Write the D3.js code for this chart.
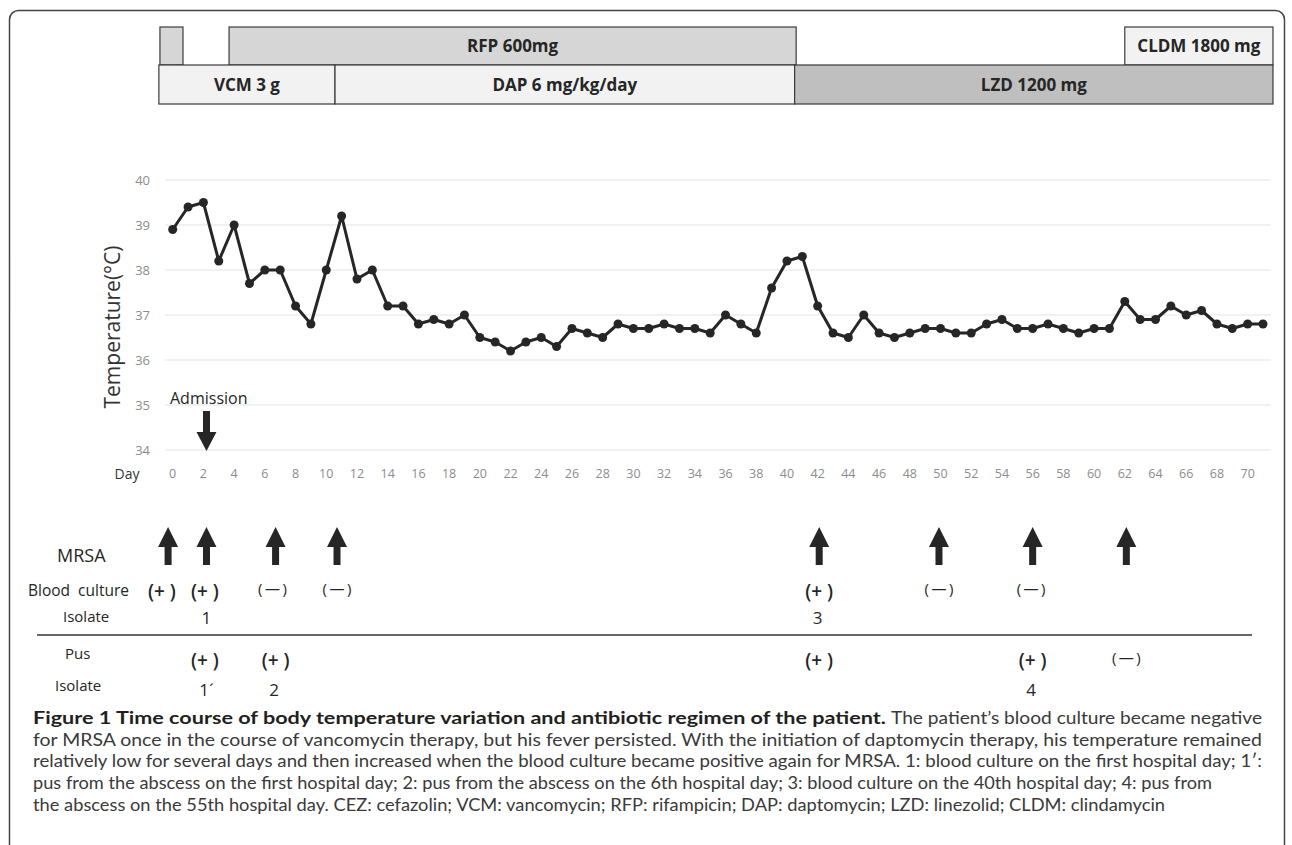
<!DOCTYPE html>
<html>
<head>
<meta charset="utf-8">
<script src="https://cdn.jsdelivr.net/npm/d3@7"></script>
<style>
  body { margin: 0; background: #fff; }
  svg { display: block; font-family: "Open Sans", sans-serif; }
</style>
</head>
<body>
<script>
// temperature per hospital day (0..71)
const days = d3.range(0, 72);
const temps = [
  38.9, 39.4, 39.5, 38.2, 39.0, 37.7, 38.0, 38.0, 37.2, 36.8,
  38.0, 39.2, 37.8, 38.0, 37.2, 37.2, 36.8, 36.9, 36.8, 37.0,
  36.5, 36.4, 36.2, 36.4, 36.5, 36.3, 36.7, 36.6, 36.5, 36.8,
  36.7, 36.7, 36.8, 36.7, 36.7, 36.6, 37.0, 36.8, 36.6, 37.6,
  38.2, 38.3, 37.2, 36.6, 36.5, 37.0, 36.6, 36.5, 36.6, 36.7,
  36.7, 36.6, 36.6, 36.8, 36.9, 36.7, 36.7, 36.8, 36.7, 36.6,
  36.7, 36.7, 37.3, 36.9, 36.9, 37.2, 37.0, 37.1, 36.8, 36.7,
  36.8, 36.8
];
const yTicks = [34, 35, 36, 37, 38, 39, 40];
const xTicks = d3.range(0, 71, 2);

// antibiotic regimens (start/end in days)
const topRegimens = [
  { label: "", start: -0.83, end: 0.67, fill: "#d6d6d6" },
  { label: "RFP 600mg", start: 3.67, end: 40.6, fill: "#d6d6d6" },
  { label: "CLDM 1800 mg", start: 62.0, end: 71.65, fill: "#f2f2f2" }
];
const bottomRegimens = [
  { label: "VCM 3 g", start: -0.9, end: 10.57, fill: "#f2f2f2" },
  { label: "DAP 6 mg/kg/day", start: 10.57, end: 40.5, fill: "#f2f2f2" },
  { label: "LZD 1200 mg", start: 40.5, end: 71.65, fill: "#bfbfbf" }
];

// MRSA annotations (positions in days)
const admissionDay = 2.2;
const mrsaArrowDays = [-0.3, 2.2, 6.7, 10.7, 42.1, 49.9, 56.0, 62.1];
const POS = "(+ )", NEG = "(\u2009\u2014\u2009)";
const bloodResults = [
  { day: -0.7, text: POS }, { day: 2.1, text: POS },
  { day: 6.5, text: NEG }, { day: 10.7, text: NEG },
  { day: 42.1, text: POS }, { day: 49.9, text: NEG }, { day: 55.9, text: NEG }
];
const bloodIsolates = [{ day: 2.2, text: "1" }, { day: 42.0, text: "3" }];
const pusResults = [
  { day: 2.1, text: POS }, { day: 6.7, text: POS },
  { day: 42.1, text: POS }, { day: 56.0, text: POS }, { day: 62.1, text: NEG }
];
const pusIsolates = [{ day: 2.2, text: "1´" }, { day: 6.6, text: "2" }, { day: 55.9, text: "4" }];

const captionBold = "Figure 1 Time course of body temperature variation and antibiotic regimen of the patient.";
const captionLines = [
  "The patient’s blood culture became negative",
  "for MRSA once in the course of vancomycin therapy, but his fever persisted. With the initiation of daptomycin therapy, his temperature remained",
  "relatively low for several days and then increased when the blood culture became positive again for MRSA. 1: blood culture on the first hospital day; 1′:",
  "pus from the abscess on the first hospital day; 2: pus from the abscess on the 6th hospital day; 3: blood culture on the 40th hospital day; 4: pus from",
  "the abscess on the 55th hospital day. CEZ: cefazolin; VCM: vancomycin; RFP: rifampicin; DAP: daptomycin; LZD: linezolid; CLDM: clindamycin"
];

const width = 1292, height = 845;
const svg = d3.select("body").append("svg")
  .attr("width", width).attr("height", height);

// outer frame
svg.append("rect")
  .attr("x", 9.5).attr("y", 10.5)
  .attr("width", 1275).attr("height", 880)
  .attr("rx", 9)
  .attr("fill", "none").attr("stroke", "#444").attr("stroke-width", 1.5);

const x = d3.scaleLinear().domain([0, 71]).range([172.7, 1263]);
const y = d3.scaleLinear().domain([34, 40]).range([450, 180]);

// regimen bars
function drawRow(data, y0, h) {
  const g = svg.append("g");
  g.selectAll("rect").data(data).join("rect")
    .attr("x", d => x(d.start)).attr("y", y0)
    .attr("width", d => x(d.end) - x(d.start)).attr("height", h)
    .attr("fill", d => d.fill).attr("stroke", "#3a3a3a").attr("stroke-width", 1.2);
  g.selectAll("text").data(data).join("text")
    .attr("x", d => (x(d.start) + x(d.end)) / 2)
    .attr("y", y0 + h / 2).attr("dy", "0.36em")
    .attr("text-anchor", "middle")
    .attr("font-size", 17).attr("font-weight", 700).attr("fill", "#262626")
    .text(d => d.label);
}
drawRow(topRegimens, 27, 38);
drawRow(bottomRegimens, 65, 39);

// grid + y labels
svg.append("g").selectAll("line").data(yTicks).join("line")
  .attr("x1", x(-0.5)).attr("x2", x(71.5))
  .attr("y1", d => y(d)).attr("y2", d => y(d))
  .attr("stroke", "#e3e3e3").attr("stroke-width", 1.2);

svg.append("g").selectAll("text").data(yTicks).join("text")
  .attr("x", 150).attr("y", d => y(d)).attr("dy", "0.35em")
  .attr("text-anchor", "end").attr("font-size", 13).attr("fill", "#8c8c8c")
  .text(d => d);

svg.append("text")
  .attr("transform", "translate(113,327) rotate(-90)")
  .attr("text-anchor", "middle").attr("dy", "0.35em")
  .attr("font-size", 21).attr("fill", "#333")
  .text("Temperature(°C)");

// x labels
svg.append("g").selectAll("text").data(xTicks).join("text")
  .attr("x", d => x(d)).attr("y", 474).attr("dy", "0.35em")
  .attr("text-anchor", "middle").attr("font-size", 12.5).attr("fill", "#8c8c8c")
  .text(d => d);
svg.append("text").attr("x", 127).attr("y", 474).attr("dy", "0.35em")
  .attr("text-anchor", "middle").attr("font-size", 14).attr("fill", "#333").text("Day");

// temperature line
const line = d3.line().x((d, i) => x(days[i])).y(d => y(d));
svg.append("path").datum(temps)
  .attr("d", line).attr("fill", "none")
  .attr("stroke", "#262626").attr("stroke-width", 3).attr("stroke-linejoin", "round");
svg.append("g").selectAll("circle").data(temps).join("circle")
  .attr("cx", (d, i) => x(days[i])).attr("cy", d => y(d))
  .attr("r", 4.5).attr("fill", "#262626");

// admission arrow
svg.append("text").attr("x", 170).attr("y", 398).attr("dy", "0.35em")
  .attr("font-size", 16).attr("fill", "#262626").text("Admission");
function arrowPath(cx, tip, base, headLen, headW, shaftW) {
  const dir = base > tip ? 1 : -1;
  const hb = tip + dir * headLen;
  return `M${cx},${tip} L${cx + headW / 2},${hb} L${cx + shaftW / 2},${hb} L${cx + shaftW / 2},${base}` +
    ` L${cx - shaftW / 2},${base} L${cx - shaftW / 2},${hb} L${cx - headW / 2},${hb} Z`;
}
svg.append("path")
  .attr("d", arrowPath(x(admissionDay), 451, 411, 19, 20, 7))
  .attr("fill", "#262626");

// MRSA section
svg.append("g").selectAll("path").data(mrsaArrowDays).join("path")
  .attr("d", d => arrowPath(x(d), 527, 565, 20, 20, 7))
  .attr("fill", "#262626");

const labels = [
  { t: "MRSA", x: 57, y: 556, s: 18 },
  { t: "Blood  culture", x: 28, y: 591, s: 15.5 },
  { t: "Isolate", x: 63, y: 617, s: 15 },
  { t: "Pus", x: 65, y: 654, s: 15 },
  { t: "Isolate", x: 55, y: 686, s: 15 }
];
svg.append("g").selectAll("text").data(labels).join("text")
  .attr("x", d => d.x).attr("y", d => d.y).attr("dy", "0.35em")
  .attr("font-size", d => d.s).attr("fill", "#262626")
  .style("white-space", "pre")
  .text(d => d.t);

function drawMarks(data, yPos) {
  svg.append("g").selectAll("text").data(data).join("text")
    .attr("x", d => x(d.day)).attr("y", d => d.text === NEG ? yPos - 2 : yPos)
    .attr("dy", "0.35em").attr("text-anchor", "middle")
    .attr("font-size", d => d.text === NEG ? 15 : (d.text === POS ? 19 : 17))
    .attr("font-weight", d => d.text === POS ? 600 : 400)
    .attr("fill", "#262626")
    .style("white-space", "pre")
    .text(d => d.text);
}
drawMarks(bloodResults, 591);
drawMarks(bloodIsolates, 618);
drawMarks(pusResults, 660);
drawMarks(pusIsolates, 690);

svg.append("line")
  .attr("x1", 37).attr("x2", 1252).attr("y1", 635).attr("y2", 635)
  .attr("stroke", "#333").attr("stroke-width", 1.5);

// caption
const cap = svg.append("g").attr("fill", "#3a3a3a").style("font-family", "Lato, sans-serif");
cap.append("text").attr("x", 33).attr("y", 718).attr("dy", "0.35em")
  .attr("font-size", 16.5).attr("font-weight", 700).attr("fill", "#231f20")
  .attr("textLength", 853).attr("lengthAdjust", "spacingAndGlyphs")
  .text(captionBold);
const capEnds = [1262, 1262, 1262, 1212, 1165];
cap.selectAll("text.line").data(captionLines).join("text")
  .attr("class", "line")
  .attr("x", (d, i) => i === 0 ? 891 : 33)
  .attr("y", (d, i) => 718 + i * 21.8).attr("dy", "0.35em")
  .attr("font-size", 16.5)
  .attr("textLength", (d, i) => capEnds[i] - (i === 0 ? 891 : 33))
  .attr("lengthAdjust", "spacingAndGlyphs")
  .text(d => d);
</script>
</body>
</html>
